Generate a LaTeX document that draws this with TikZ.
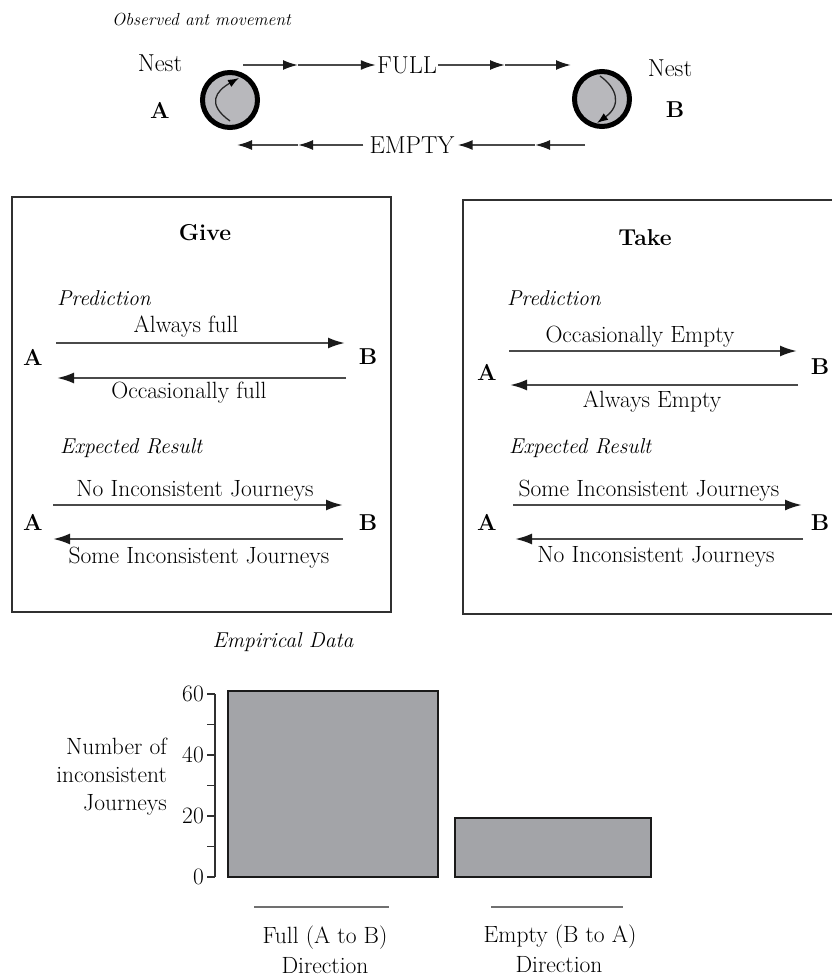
\documentclass[tikz,border=0pt]{standalone}
\usetikzlibrary{arrows.meta}
\definecolor{linegray}{HTML}{4A4A4A}
\definecolor{headdark}{HTML}{1A1A1A}
\definecolor{boxline}{HTML}{303030}
\definecolor{nestfill}{HTML}{B8B8BC}
\definecolor{barfill}{HTML}{A3A4A8}
\definecolor{ulgray}{HTML}{707070}
\begin{document}
\begin{tikzpicture}[x=1pt,y=-1pt,
  txt/.style={inner sep=0pt, font=\fontsize{23.5}{28}\selectfont},
  bigtxt/.style={inner sep=0pt, font=\fontsize{24.5}{28}\selectfont},
  bftxt/.style={inner sep=0pt, font=\fontsize{23}{28}\selectfont\bfseries},
  ittxt/.style={inner sep=0pt, font=\fontsize{21.5}{26}\selectfont\itshape},
  smallit/.style={inner sep=0pt, font=\fontsize{17.5}{22}\selectfont\itshape},
  nest/.style={circle, draw=black, line width=5pt, fill=nestfill, minimum size=55pt, inner sep=0pt},
  toparrow/.style={draw=linegray, line width=1.8pt, -{Latex[length=15pt,width=10pt,color=headdark]}},
  curvearrow/.style={draw=black!85, line width=1.3pt, -{Latex[length=11pt,width=8pt,color=black]}},
  boxarrow/.style={draw=linegray, line width=2.2pt, -{Latex[length=17pt,width=11pt,color=headdark]}},
  frame/.style={draw=boxline, line width=2.8pt},
  bar/.style={draw=headdark, line width=2.8pt, fill=barfill},
  ul/.style={draw=ulgray, line width=2.2pt},
  axisline/.style={draw=boxline, line width=1.5pt}]
\useasboundingbox (0,0) rectangle (832,980);

% ---------- Observed ant movement ----------
\node[smallit, anchor=west] (obs) at (112,20) {Observed ant movement};
\node[bigtxt] (nestAt) at (160,63) {Nest};
\node[bftxt] (Alab) at (160,110) {A};
\node[bigtxt] (nestBt) at (670,68) {Nest};
\node[bftxt] (Blab) at (675,110) {B};
\node[nest] (nA) at (230,100) {};
\node[nest] (nB) at (602,99) {};
\coordinate (ca0) at (230,121);
\coordinate (ca1) at (239,78);
\draw[curvearrow] (ca0) .. controls (206,104) and (216,91) .. (ca1);
\coordinate (cb0) at (600,76);
\coordinate (cb1) at (597,123);
\draw[curvearrow] (cb0) .. controls (617,88) and (622,105) .. (cb1);

\node[bigtxt] (full) at (407,65) {FULL};
\node[bigtxt] (empty) at (412,145) {EMPTY};
\coordinate (t0) at (243,65);
\coordinate (t1) at (298,65);
\coordinate (t2) at (505,65);
\coordinate (t3) at (571,65);
\draw[toparrow] (t0) -- (t1);
\draw[toparrow] (t1) -- ([xshift=-1pt]full.west);
\draw[toparrow] ([xshift=1pt]full.east) -- (t2);
\draw[toparrow] (t2) -- (t3);
\coordinate (b0) at (585,145);
\coordinate (b1) at (535,145);
\coordinate (b2) at (298,145);
\coordinate (b3) at (237,145);
\draw[toparrow] (b0) -- (b1);
\draw[toparrow] (b1) -- ([xshift=3pt]empty.east);
\draw[toparrow] ([xshift=-6pt]empty.west) -- (b2);
\draw[toparrow] (b2) -- (b3);

% ---------- Give box ----------
\draw[frame] (12,197) rectangle (391,612);
\node[bftxt] (give) at (205,233) {Give};
\node[ittxt, anchor=west] (gpred) at (57,298) {Prediction};
\node[txt] (gl1) at (186,327) {Always full};
\coordinate (g1s) at (56,343);  \coordinate (g1e) at (345,343);
\draw[boxarrow] (g1s) -- (g1e);
\node[bftxt] (gA1) at (33,357) {A};
\node[bftxt] (gB1) at (368,357) {B};
\coordinate (g2s) at (346,378); \coordinate (g2e) at (57,378);
\draw[boxarrow] (g2s) -- (g2e);
\node[txt] (gl2) at (189,393) {Occasionally full};
\node[ittxt, anchor=west] (gexp) at (60,448) {Expected Result};
\node[txt] (gl3) at (195,491) {No Inconsistent Journeys};
\coordinate (g3s) at (53,505);  \coordinate (g3e) at (343,505);
\draw[boxarrow] (g3s) -- (g3e);
\node[bftxt] (gA2) at (33,522) {A};
\node[bftxt] (gB2) at (368,523) {B};
\coordinate (g4s) at (343,539); \coordinate (g4e) at (53,539);
\draw[boxarrow] (g4s) -- (g4e);
\node[txt] (gl4) at (199,558) {Some Inconsistent Journeys};

% ---------- Take box ----------
\draw[frame] (463,200) rectangle (845,614);
\node[bftxt] (take) at (645,238) {Take};
\node[ittxt, anchor=west] (tpred) at (507,298) {Prediction};
\node[txt] (tl1) at (640,337) {Occasionally Empty};
\coordinate (k1s) at (509,351); \coordinate (k1e) at (797,351);
\draw[boxarrow] (k1s) -- (k1e);
\node[bftxt] (tA1) at (487,372) {A};
\node[bftxt] (tB1) at (820,367) {B};
\coordinate (k2s) at (798,385); \coordinate (k2e) at (510,385);
\draw[boxarrow] (k2s) -- (k2e);
\node[txt] (tl2) at (652,402) {Always Empty};
\node[ittxt, anchor=west] (texp) at (509,448) {Expected Result};
\node[txt] (tl3) at (649,491) {Some Inconsistent Journeys};
\coordinate (k3s) at (513,505); \coordinate (k3e) at (802,505);
\draw[boxarrow] (k3s) -- (k3e);
\node[bftxt] (tA2) at (487,522) {A};
\node[bftxt] (tB2) at (820,523) {B};
\coordinate (k4s) at (803,539); \coordinate (k4e) at (515,539);
\draw[boxarrow] (k4s) -- (k4e);
\node[txt] (tl4) at (656,557) {No Inconsistent Journeys};

% ---------- Empirical data chart ----------
\node[ittxt] (emp) at (283,642) {Empirical Data};
\draw[axisline] (215,694) -- (215,877);
\foreach \v in {0,10,...,60} {
  \draw[axisline] (207,{877-3.05*\v}) -- (215,{877-3.05*\v});
}
\foreach \v in {0,20,40,60} {
  \node[txt, anchor=east] at (204,{877-3.05*\v}) {\v};
}
\node[txt, anchor=east, align=right, font=\fontsize{23.5}{28}\selectfont] (ylab) at (167,777) {Number of\\inconsistent\\Journeys};
\draw[bar] (228,877) rectangle (438,691);
\draw[bar] (455,877) rectangle (651,818);
\draw[ul] (254,907) -- (389,907);
\draw[ul] (491,907) -- (623,907);
\node[txt] (fullx) at (325,938) {Full (A to B)};
\node[txt] (dir1) at (325,966) {Direction};
\node[txt] (emptyx) at (560,937) {Empty (B to A)};
\node[txt] (dir2) at (559,965) {Direction};
\end{tikzpicture}
\end{document}
